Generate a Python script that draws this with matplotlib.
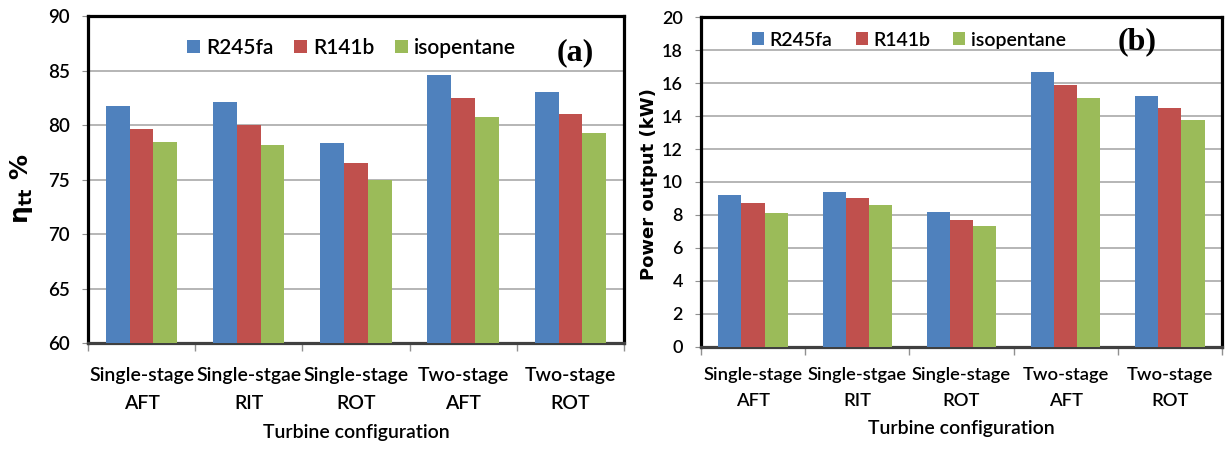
import matplotlib
matplotlib.use("Agg")
import matplotlib.pyplot as plt
import numpy as np
from matplotlib.ticker import FixedLocator, NullFormatter

categories = ["Single-stage\nAFT", "Single-stgae\nRIT", "Single-stage\nROT", "Two-stage\nAFT", "Two-stage\nROT"]
series_names = ["R245fa", "R141b", "isopentane"]
eff_r245fa = [81.8, 82.1, 78.4, 84.6, 83.1]
eff_r141b = [79.7, 80.0, 76.5, 82.5, 81.0]
eff_isopentane = [78.5, 78.2, 75.0, 80.8, 79.3]
pow_r245fa = [9.2, 9.4, 8.2, 16.7, 15.2]
pow_r141b = [8.7, 9.0, 7.7, 15.9, 14.5]
pow_isopentane = [8.1, 8.6, 7.35, 15.1, 13.75]
colors = ["#4F81BD", "#C0504D", "#9BBB59"]

font = ["Lato", "DejaVu Sans"]
plt.rcParams['font.family'] = font
plt.rcParams['font.weight'] = 'semibold'
plt.rcParams['axes.labelweight'] = 'semibold'

fig = plt.figure(figsize=(12.25, 4.5), dpi=100)
ax1 = fig.add_axes([0.0718, 0.2378, 0.4376, 0.7256])
ax2 = fig.add_axes([0.5722, 0.2296, 0.4253, 0.732])

def draw(ax, data, ylim, yticks, tag, tagx, tagy, legx, legy, legfs, colsp, ytfs, xtfs, xpad, xlpad):
    x = np.arange(len(categories))
    w = 0.222
    for i, (vals, c, n) in enumerate(zip(data, colors, series_names)):
        ax.bar(x + (i - 1) * w, np.array(vals) - ylim[0], w, bottom=ylim[0], color=c, label=n, zorder=3)
    ax.set_xlim(-0.5, len(categories) - 0.5)
    ax.set_ylim(*ylim)
    ax.set_yticks(yticks)
    ax.yaxis.grid(True, color="#b0b0b0", linewidth=1.3, zorder=0)
    ax.set_xticks(x)
    ax.set_xticklabels(categories, fontsize=xtfs, linespacing=1.8)
    ax.tick_params(axis='x', which='major', length=0, pad=xpad)
    ax.xaxis.set_minor_locator(FixedLocator(np.arange(-0.5, len(categories), 1.0)))
    ax.xaxis.set_minor_formatter(NullFormatter())
    ax.tick_params(axis='x', which='minor', length=5.5, color="#909090", width=1)
    ax.tick_params(axis='y', labelsize=ytfs, length=4.5, color="#909090", pad=8.5)
    for s in ax.spines.values():
        s.set_linewidth(2.3)
        s.set_color("black")
    ax.spines['bottom'].set_color("#404040")
    ax.set_xlabel("Turbine configuration", fontsize=14, labelpad=xlpad)
    ax.legend(loc="center left", bbox_to_anchor=(legx, legy), ncol=3, frameon=False, borderpad=0,
              borderaxespad=0, fontsize=legfs, handlelength=0.62, handleheight=0.62,
              handletextpad=0.28, columnspacing=colsp)
    ax.text(tagx, tagy, tag, transform=ax.transAxes, fontsize=23, fontweight='bold',
            family=["Liberation Serif", "DejaVu Serif"], ha='center', va='center')

draw(ax1, [eff_r245fa, eff_r141b, eff_isopentane], (60, 90), [60, 65, 70, 75, 80, 85, 90],
     "(a)", 0.909, 0.888, 0.185, 0.9035, 15, 1.0, 13.5, 14, 17, 9)
draw(ax2, [pow_r245fa, pow_r141b, pow_isopentane], (0, 20), list(range(0, 21, 2)),
     "(b)", 0.837, 0.925, 0.098, 0.931, 14, 1.2, 13, 13.2, 14.5, 8)

ax1.set_ylabel(r"$\mathbf{\eta_{tt}}$ %", fontsize=18, fontweight='bold', family=["DejaVu Sans"])
ax1.yaxis.set_label_coords(-0.099, 0.472)
ax2.set_ylabel("Power output (kW)", fontsize=13, fontweight='bold', family=["DejaVu Sans"])
ax2.yaxis.set_label_coords(-0.0825, 0.494)

fig.savefig("out.png", dpi=100)
